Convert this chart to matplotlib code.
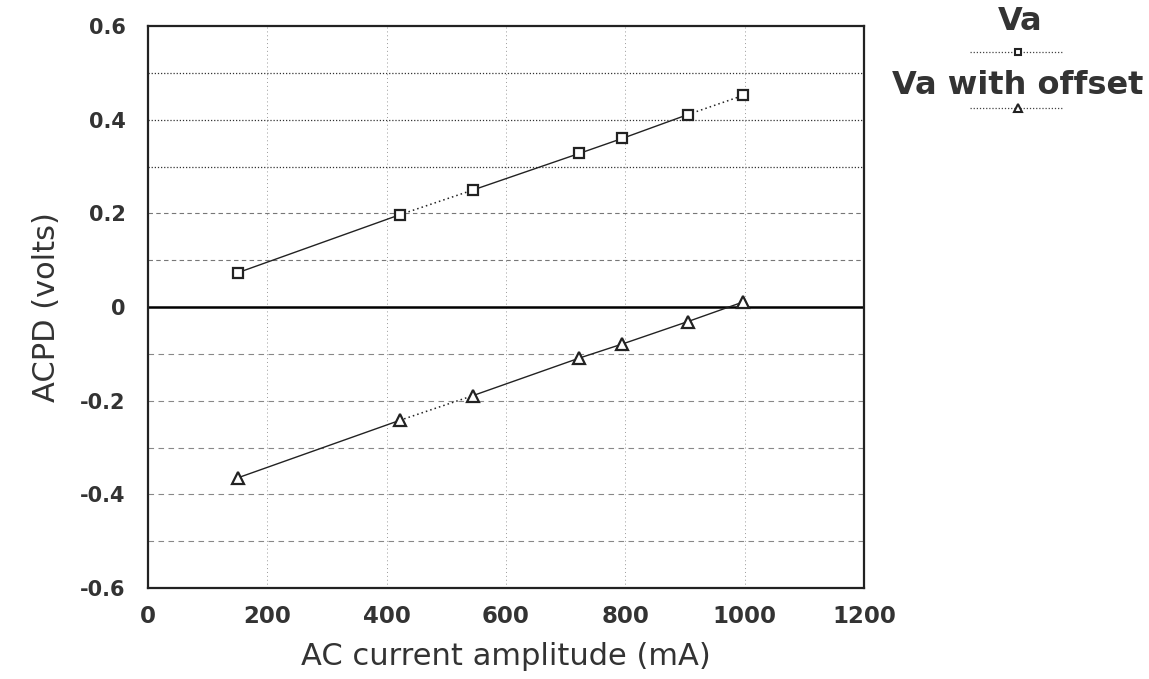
import matplotlib
matplotlib.use("Agg")
import matplotlib.pyplot as plt
from matplotlib.lines import Line2D

current_mA = [150, 422, 545, 723, 795, 905, 998]
va = [0.073, 0.197, 0.250, 0.328, 0.360, 0.411, 0.452]
va_offset = [-0.365, -0.242, -0.189, -0.109, -0.079, -0.031, 0.011]
x_ticks = [0, 200, 400, 600, 800, 1000, 1200]
y_ticks = [-0.6, -0.4, -0.2, 0, 0.2, 0.4, 0.6]
y_tick_labels = ["-0.6", "-0.4", "-0.2", "0", "0.2", "0.4", "0.6"]
series_names = ["Va", "Va with offset"]

va_seg_styles = ["-", ":", "-", "-", "-", ":"]
off_seg_styles = ["-", ":", "-", "-", "-", "-"]

fig = plt.figure(figsize=(11.49, 6.79), dpi=100)
ax = fig.add_axes([148/1149, 1-588/679, (864-148)/1149, (588-26)/679])
ax.set_xlim(0, 1200)
ax.set_ylim(-0.6, 0.6)

# grid
for yv in [0.5, 0.4, 0.3]:
    ax.axhline(yv, color="#333333", lw=0.9, ls=(0, (1, 1.5)), zorder=1)
for yv in [0.2, 0.1]:
    ax.axhline(yv, color="#777777", lw=0.8, ls=(0, (4, 3)), zorder=1)
for yv in [-0.1, -0.2, -0.3, -0.4, -0.5]:
    ax.axhline(yv, color="#888888", lw=0.8, ls=(0, (5, 4)), zorder=1)
for xv in [200, 400, 600, 800, 1000]:
    ax.axvline(xv, color="#999999", lw=0.7, ls=(0, (1, 3)), zorder=1)
ax.axhline(0, color="black", lw=1.8, zorder=2)

def draw_series(xs, ys, styles, marker, ms):
    for i in range(len(xs) - 1):
        ls = styles[i]
        ax.plot(xs[i:i+2], ys[i:i+2], color="#222222",
                lw=1.0 if ls == "-" else 1.1, ls=ls if ls == "-" else (0, (1, 2)), zorder=3)
    ax.plot(xs, ys, ls="none", marker=marker, ms=ms, mfc="white",
            mec="#222222", mew=1.6, zorder=4)

draw_series(current_mA, va, va_seg_styles, "s", 7)
draw_series(current_mA, va_offset, off_seg_styles, "^", 8)

ax.set_xticks(x_ticks)
ax.set_xticklabels([str(t) for t in x_ticks], fontsize=16.5, fontweight="bold",
                   color="#333333")
ax.set_yticks(y_ticks)
ax.set_yticklabels(y_tick_labels, fontsize=15, fontweight="bold", color="#333333")
ax.tick_params(axis="y", length=0, pad=16)
ax.tick_params(axis="x", length=0, pad=12)
for s in ax.spines.values():
    s.set_linewidth(1.6)
    s.set_color("#222222")

ax.set_xlabel("AC current amplitude (mA)", fontsize=22, color="#333333", labelpad=10)
ax.set_ylabel("ACPD (volts)", fontsize=22, color="#333333", labelpad=14)

# legend at right
fig.text(1020/1149, 1-21/679, series_names[0], ha="center", va="center",
         fontsize=23, fontweight="bold", color="#333333")
fig.text(1018/1149, 1-86/679, series_names[1], ha="center", va="center",
         fontsize=23, fontweight="bold", color="#333333")
for yp, mk, ms in [(52, "s", 5), (108, "^", 6)]:
    yf = 1 - yp/679
    fig.add_artist(Line2D([970/1149, 1063/1149], [yf, yf], transform=fig.transFigure,
                          color="#444444", lw=0.9, ls=(0, (1, 1.5))))
    fig.add_artist(Line2D([1018/1149], [yf], transform=fig.transFigure,
                          marker=mk, ms=ms, mfc="white", mec="#222222", mew=1.5, ls="none"))

fig.savefig("out.png", dpi=100)
